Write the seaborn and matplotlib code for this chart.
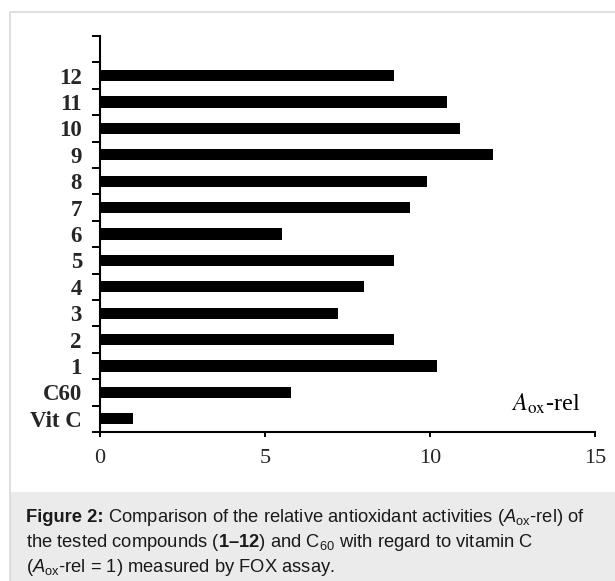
import numpy as np
import pandas as pd
import matplotlib
matplotlib.use("Agg")
import matplotlib.pyplot as plt
import seaborn as sns
from matplotlib.patches import Rectangle

# ---- data ----
categories = ["Vit C", "C60", "1", "2", "3", "4", "5", "6", "7", "8", "9", "10", "11", "12"]
values = [1.0, 5.8, 10.2, 8.9, 7.2, 8.0, 8.9, 5.5, 9.4, 9.9, 11.9, 10.9, 10.5, 8.9]
x_ticks = [0, 5, 10, 15]
axis_label = r"$\mathit{A}_{\mathrm{ox}}$-rel"
caption_head = "Figure 2:"
caption_lines = [
    r" Comparison of the relative antioxidant activities ($\mathit{A}_{\mathrm{ox}}$-rel) of",
    r"the tested compounds ($\mathbf{1–12}$) and $\mathrm{C}_{60}$ with regard to vitamin C",
    r"($\mathit{A}_{\mathrm{ox}}$-rel = 1) measured by FOX assay.",
]

sns.set_theme(style="white")
plt.rcParams["mathtext.fontset"] = "custom"
plt.rcParams["mathtext.rm"] = "Liberation Sans"
plt.rcParams["mathtext.it"] = "Liberation Sans:italic"
plt.rcParams["mathtext.bf"] = "Liberation Sans:bold"
plt.rcParams["font.family"] = ["Liberation Serif", "DejaVu Serif"]

W, H = 615, 581
fig = plt.figure(figsize=(W / 100, H / 100), dpi=100, facecolor="white")

# frame & caption box
fig.patches.append(Rectangle((10 / W, 0), 1.2, (H - 492) / H, transform=fig.transFigure,
                             facecolor="#ebebeb", edgecolor="none", zorder=0))
fig.patches.append(Rectangle((9.5 / W, -0.1), 1.2, (H - 12.5) / H + 0.1, transform=fig.transFigure,
                             facecolor="none", edgecolor="#d9d9d9", linewidth=1.2, zorder=1))

left, right, top, bottom = 100, 595, 36, 432
ax = fig.add_axes([left / W, 1 - bottom / H, (right - left) / W, (bottom - top) / H])
ax.set_facecolor("none")

order = categories[::-1]
df = pd.DataFrame({"compound": categories, "value": values})
sns.barplot(data=df, x="value", y="compound", order=order, orient="h",
            color="black", width=0.42, ax=ax, saturation=1, linewidth=0)

ax.set_xlim(0, 15)
ax.set_ylim(len(order) - 0.5, -1.5)
ax.set_xticks(x_ticks)
ax.set_xticklabels([str(t) for t in x_ticks], fontsize=16)
ax.set_yticks(np.arange(len(order)))
ax.set_yticklabels(order, fontsize=16.5, fontweight="bold")
ax.set_yticks(np.arange(-1.5, len(order), 1.0), minor=True)
ax.tick_params(axis="y", which="major", length=0, pad=13)
ax.tick_params(axis="y", which="minor", length=6, width=1.4, direction="out", color="black", left=True)
ax.tick_params(axis="x", which="major", length=3.5, width=1.4, direction="out", color="black",
               bottom=True, pad=9)
ax.set_xlabel("")
ax.set_ylabel("")
for s in ["top", "right"]:
    ax.spines[s].set_visible(False)
for s in ["left", "bottom"]:
    ax.spines[s].set_color("black")
    ax.spines[s].set_linewidth(1.5)

ax.text(580 / W, 1 - 411 / H, axis_label, transform=fig.transFigure, ha="right", va="baseline",
        fontsize=17.5, math_fontfamily="stix", color="black")

ys = [522, 547, 572]
cap_kw = dict(ha="left", va="baseline", fontsize=13.2, family="Liberation Sans", color="#1a1a1a")
head = fig.text(26 / W, 1 - ys[0] / H, caption_head, fontweight="bold", **cap_kw)
renderer = fig.canvas.get_renderer()
head_w = head.get_window_extent(renderer).width
fig.text((26 + head_w + 4) / W, 1 - ys[0] / H, caption_lines[0].strip(), **cap_kw)
for line, y in zip(caption_lines[1:], ys[1:]):
    fig.text(26 / W, 1 - y / H, line, **cap_kw)

fig.savefig("out.png", dpi=100, facecolor="white")
